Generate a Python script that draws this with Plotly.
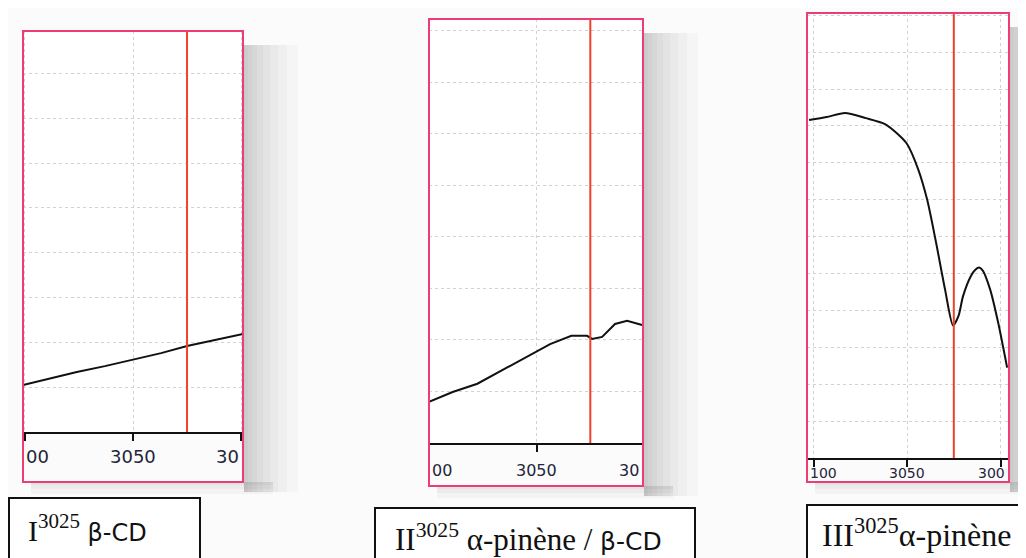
import plotly.graph_objects as go

# ---------------- data ----------------
wavenumber_ticks = [3100, 3050, 3000]
marker_wavenumber = 3025

p1_x = [3100.9, 3090, 3076, 3063, 3050, 3037, 3025, 3012, 2999.1]
p1_y = [1.05, 1.18, 1.34, 1.47, 1.61, 1.76, 1.92, 2.05, 2.19]

p2_x = [3100, 3089, 3077.5, 3063.7, 3050.7, 3043.7, 3033.8, 3026.5, 3024.2, 3019.5, 3013.5, 3007.9, 3000.9]
p2_y = [0.80, 0.99, 1.15, 1.46, 1.75, 1.92, 2.08, 2.08, 2.02, 2.06, 2.31, 2.37, 2.29]

p3_x = [3102.4, 3093, 3083.2, 3072, 3061.8, 3055, 3050, 3044.1, 3039.3, 3034.5, 3029.7,
        3025.4, 3022.5, 3020.1, 3016, 3013.5, 3011.5, 3009.5, 3005.6, 3001.3, 2996.5]
p3_y = [9.16, 9.24, 9.35, 9.21, 9.05, 8.78, 8.51, 7.83, 7.01, 5.84, 4.57,
        3.59, 3.85, 4.38, 4.92, 5.10, 5.16, 5.08, 4.57, 3.67, 2.45]

tick_texts = [["00", "3050", "30"], ["00", "3050", "30"], ["100", "3050", "300"]]
box_labels = [
    'I<sup>3025</sup> <span style="font-family:DejaVu Sans;font-size:24px">β-CD</span>',
    'II<sup>3025</sup> α-pinène / <span style="font-family:DejaVu Sans;font-size:25px">β-CD</span>',
    'III<sup>3025</sup>α-pinène',
]

# ---------------- layout geometry (pixels in the 1026x558 window) ----------------
OFF = 8                      # default body margin of the html page
W, H = 1026 - OFF, 558 - OFF
panels = [
    dict(l=23, r=243, t=31, b=432, fb=482, xr=[3100.9, 2999.1], yr=[0, 8.95],
         lab_y=456, lab_size=18),
    dict(l=429, r=643, t=19, b=443, fb=486, xr=[3100, 3000.5], yr=[0, 8.23],
         lab_y=470, lab_size=16),
    dict(l=807, r=1009, t=13, b=458, fb=482, xr=[3103.5, 2995.5], yr=[0, 12.06],
         lab_y=473, lab_size=14),
]
boxes = [
    dict(x0=8, x1=200, y0=498, tx=26, ty=528, size=30),
    dict(x0=375, x1=695, y0=508, tx=393, ty=537, size=31),
    dict(x0=807, x1=1040, y0=505, tx=820, ty=533, size=32),
]

def px(x):
    return (x - OFF) / W

def py(y):
    return (H - (y - OFF)) / H

series = [(p1_x, p1_y), (p2_x, p2_y), (p3_x, p3_y)]

fig = go.Figure()
shapes = []
annotations = []
PINK = "#ee3d72"
RED = "#f2402e"
GRID = "#d2d2d2"

for i, (pn, (xs, ys)) in enumerate(zip(panels, series)):
    k = "" if i == 0 else str(i + 1)
    xa, ya = "x" + k, "y" + k
    fig.add_trace(go.Scatter(
        x=xs, y=ys, mode="lines", xaxis=xa, yaxis=ya,
        line=dict(color="#111111", width=2,
                  shape="spline" if i == 2 else "linear",
                  smoothing=0.7 if i == 2 else None),
        showlegend=False, hoverinfo="skip"))
    fig.update_layout(**{
        "xaxis" + k: dict(
            domain=[px(pn["l"]), px(pn["r"])], anchor=ya, range=pn["xr"],
            tickvals=wavenumber_ticks, showticklabels=False,
            ticks="outside", ticklen=7, tickwidth=2, tickcolor="#111",
            showline=True, linecolor="#111", linewidth=2,
            showgrid=True, gridcolor=GRID, griddash="dot", gridwidth=1,
            zeroline=False, fixedrange=True),
        "yaxis" + k: dict(
            domain=[py(pn["b"]), py(pn["t"])], anchor=xa, range=pn["yr"],
            dtick=1, showticklabels=False, ticks="",
            showgrid=True, gridcolor=GRID, griddash="dot", gridwidth=1,
            zeroline=False, showline=False, fixedrange=True),
    })
    # soft shadow to the right of / below the frame (scan look)
    for w in [2, 5, 9, 14, 20, 27, 35, 44, 55]:
        shapes.append(dict(type="rect", xref="paper", yref="paper", layer="below",
                           x0=px(pn["r"] + 1), x1=px(min(pn["r"] + w, 1026)),
                           y0=py(pn["fb"] + 10), y1=py(pn["t"] + 14),
                           line=dict(width=0), fillcolor="rgba(0,0,0,0.022)"))
    for h in [3, 7, 12]:
        shapes.append(dict(type="rect", xref="paper", yref="paper", layer="below",
                           x0=px(pn["l"] + 8), x1=px(min(pn["r"] + 30, 1026)),
                           y0=py(pn["fb"] + h), y1=py(pn["fb"]),
                           line=dict(width=0), fillcolor="rgba(0,0,0,0.03)"))
    # red marker line
    shapes.append(dict(type="line", xref=xa, yref=ya + " domain",
                       x0=marker_wavenumber, x1=marker_wavenumber, y0=0, y1=1,
                       line=dict(color=RED, width=2)))
    # pink frame
    shapes.append(dict(type="rect", xref="paper", yref="paper",
                       x0=px(pn["l"]), x1=px(pn["r"]), y0=py(pn["fb"]), y1=py(pn["t"]),
                       line=dict(color=PINK, width=2)))
    # clipped-looking tick labels
    t0, t1, t2 = tick_texts[i]
    lab_font = dict(family="DejaVu Sans", size=pn["lab_size"], color="#24243a")
    annotations.append(dict(x=pn["xr"][0], y=py(pn["lab_y"]), xref=xa, yref="paper",
                            text=t0, showarrow=False, xanchor="left", yanchor="middle",
                            font=lab_font, xshift=1))
    annotations.append(dict(x=wavenumber_ticks[1], y=py(pn["lab_y"]), xref=xa, yref="paper",
                            text=t1, showarrow=False, xanchor="center", yanchor="middle",
                            font=lab_font))
    annotations.append(dict(x=pn["xr"][1], y=py(pn["lab_y"]), xref=xa, yref="paper",
                            text=t2, showarrow=False, xanchor="right", yanchor="middle",
                            font=lab_font, xshift=-2))

# label boxes
for bx, txt in zip(boxes, box_labels):
    shapes.append(dict(type="rect", xref="paper", yref="paper",
                       x0=px(max(bx["x0"], OFF + 1)), x1=px(bx["x1"]), y0=py(575), y1=py(bx["y0"]),
                       line=dict(color="#111", width=2), fillcolor="white"))
    annotations.append(dict(x=px(bx["tx"]), y=py(bx["ty"]), xref="paper", yref="paper",
                            text=txt, showarrow=False, xanchor="left", yanchor="middle",
                            font=dict(family="Liberation Serif", size=bx["size"], color="#111")))

fig.update_layout(
    width=W, height=H, margin=dict(l=0, r=0, t=0, b=0),
    paper_bgcolor="#fbfbfb", plot_bgcolor="white",
    shapes=shapes, annotations=annotations,
)

fig.write_html("out.html")
